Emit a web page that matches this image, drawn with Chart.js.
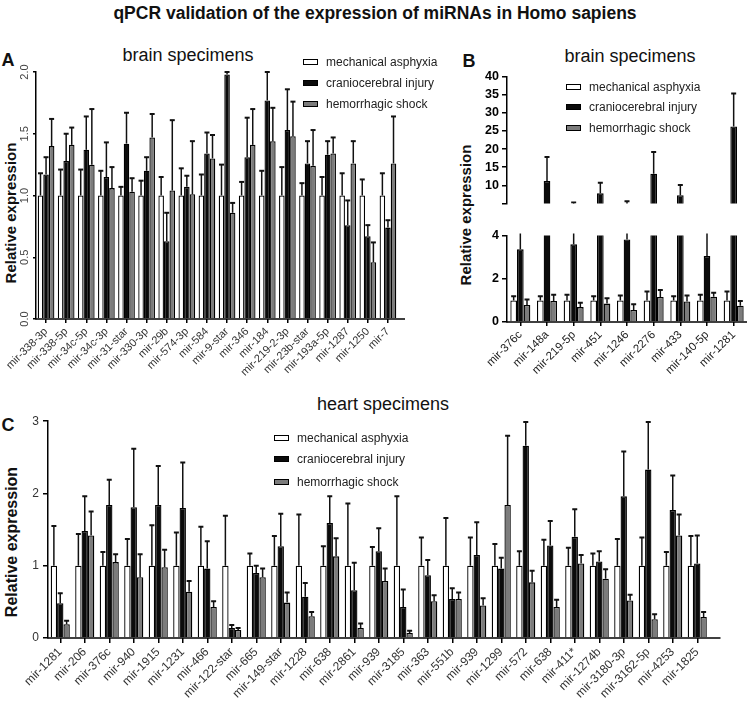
<!DOCTYPE html>
<html>
<head>
<meta charset="utf-8">
<script src="https://cdn.jsdelivr.net/npm/chart.js@4.4.1/dist/chart.umd.min.js"></script>
<style>
  body{margin:0;background:#fff;font-family:"Liberation Sans",Arial,sans-serif;}
  #page{position:relative;width:751px;height:706px;overflow:hidden;}
  canvas{position:absolute;}
  .t{position:absolute;white-space:nowrap;transform:translate(-50%,-50%);color:#111;}
  .yt{position:absolute;white-space:nowrap;font-weight:bold;color:#111;transform:translate(-50%,-50%) rotate(-90deg);}
  .lg{position:absolute;white-space:nowrap;font-size:12px;color:#222;transform:translateY(-50%);}
  .sw{position:absolute;width:13px;height:4px;border:1.3px solid #000;transform:translateY(-50%);}
</style>
</head>
<body>
<div id="page">
  <div class="t" style="left:375px;top:13px;font-size:17.5px;font-weight:bold">qPCR validation of the expression of miRNAs in Homo sapiens</div>

  <div class="t" style="left:8px;top:60px;font-size:18px;font-weight:bold">A</div>
  <div class="t" style="left:188px;top:55px;font-size:18px">brain specimens</div>
  <div class="yt" style="left:10px;top:213px;font-size:15px">Relative expression</div>
  <canvas id="cA" width="410" height="318" style="left:0;top:62px"></canvas>

  <div class="t" style="left:469px;top:61px;font-size:18px;font-weight:bold">B</div>
  <div class="t" style="left:630px;top:56px;font-size:18px">brain specimens</div>
  <div class="yt" style="left:465px;top:215px;font-size:15px">Relative expression</div>
  <canvas id="cBtop" width="296" height="148" style="left:455px;top:66px"></canvas>
  <canvas id="cBbot" width="296" height="150" style="left:455px;top:225px"></canvas>

  <div class="t" style="left:8px;top:425px;font-size:18px;font-weight:bold">C</div>
  <div class="t" style="left:383px;top:404px;font-size:18px">heart specimens</div>
  <div class="yt" style="left:12px;top:542px;font-size:16px">Relative expression</div>
  <canvas id="cC" width="725" height="296" style="left:0;top:410px"></canvas>
</div>
<script>
const seriesNames = ['mechanical asphyxia', 'craniocerebral injury', 'hemorrhagic shock'];
const fills = ['#ffffff', '#0b0b0b', '#7c7c7c'];

// A: brain specimens
const labelsA = ['mir-338-3p','mir-338-5p','mir-34c-5p','mir-34c-3p','mir-31-star','mir-330-3p','mir-29b','mir-574-3p','mir-584','mir-9-star','mir-346','mir-184','mir-219-2-3p','mir-23b-star','mir-193a-5p','mir-1287','mir-1250','mir-7'];
const asphyxiaA = [1,1,1,1,1,1,1,1,1,1,1,1,1,1,1,1,1,1];
const asphyxiaErrA = [1.18,1.21,1.21,1.20,1.07,1.12,1.15,1.22,1.17,1.25,1.11,1.20,1.23,1.10,1.15,1.18,1.13,1.18];
const cranioA = [1.17,1.28,1.37,1.15,1.42,1.20,0.63,1.07,1.34,1.98,1.31,1.77,1.53,1.26,1.33,0.76,0.67,0.74];
const cranioErrA = [1.31,1.50,1.64,1.43,1.67,1.31,0.86,1.16,1.51,2.00,1.63,2.00,1.86,1.44,1.44,0.96,0.76,0.80];
const shockA = [1.40,1.41,1.25,1.06,1.03,1.47,1.04,1.01,1.30,0.86,1.41,1.44,1.48,1.24,1.34,1.26,0.46,1.26];
const shockErrA = [1.62,1.55,1.70,1.23,1.14,1.66,1.61,1.44,1.49,0.94,1.70,1.71,1.76,1.53,1.47,1.44,0.62,1.64];

// B: brain specimens, broken axis
const labelsB = ['mir-376c','mir-148a','mir-219-5p','mir-451','mir-1246','mir-2276','mir-433','mir-140-5p','mir-1281'];
const asphyxiaB = [1,1,1,1,1,1,1,1,1];
const asphyxiaErrB = [1.19,1.19,1.26,1.19,1.23,1.41,1.19,1.26,1.41];
const cranioB = [3.36,11.2,3.59,7.8,3.82,13.2,7.3,3.05,26.2];
const cranioErrB = [4.6,17.8,5.3,10.7,5.6,19.2,10.1,4.4,35.3];
const shockB = [0.79,0.97,0.69,0.85,0.56,1.16,0.95,1.17,0.75];
const shockErrB = [1.04,1.26,0.89,1.10,0.82,1.48,1.23,1.35,0.97];

// C: heart specimens
const labelsC = ['mir-1281','mir-206','mir-376c','mir-940','mir-1915','mir-1231','mir-466','mir-122-star','mir-665','mir-149-star','mir-1228','mir-638','mir-2861','mir-939','mir-3185','mir-363','mir-551b','mir-939','mir-1299','mir-572','mir-638','mir-411*','mir-1274b','mir-3180-3p','mir-3162-5p','mir-4253','mir-1825'];
const asphyxiaC = [1,1,1,1,1,1,1,1,1,1,1,1,1,1,1,1,1,1,1,1,1,1,1,1,1,1,1];
const asphyxiaErrC = [1.55,1.44,1.19,1.37,1.56,1.46,1.54,1.69,1.17,1.41,1.71,1.27,1.86,1.26,1.96,1.39,1.66,1.39,1.30,1.20,1.36,1.25,1.17,1.37,1.39,1.19,1.41];
const cranioC = [0.48,1.48,1.84,1.81,1.84,1.80,0.96,0.14,0.90,1.27,0.57,1.59,0.66,1.20,0.43,0.87,0.54,1.15,0.96,2.66,1.28,1.40,1.06,1.96,2.33,1.77,1.03];
const cranioErrC = [0.62,1.96,2.19,2.62,2.38,2.43,1.34,0.18,1.00,1.72,0.76,1.96,1.04,1.52,0.67,1.08,0.69,1.60,1.11,2.99,1.62,1.78,1.20,2.58,2.99,2.25,1.42];
const shockC = [0.19,1.42,1.05,0.84,0.98,0.64,0.43,0.11,0.84,0.49,0.30,1.13,0.14,0.79,0.07,0.51,0.54,0.45,1.84,0.77,0.43,1.03,0.82,0.52,0.26,1.42,0.29];
const shockErrC = [0.24,1.75,1.16,1.16,1.22,0.79,0.51,0.14,0.96,0.63,0.36,1.38,0.20,0.96,0.10,0.59,0.63,0.55,2.80,0.93,0.53,1.15,0.95,0.60,0.33,1.71,0.36];

const FONT = '"Liberation Sans", Arial, sans-serif';

// upward error bars with a cap, clipped to the plot area
const errorBars = {
  id: 'errorBars',
  afterDatasetsDraw(chart) {
    const { ctx, chartArea: a, scales: { y } } = chart;
    ctx.save();
    ctx.beginPath();
    ctx.rect(a.left, a.top - 2, a.right - a.left, a.bottom - a.top + 2);
    ctx.clip();
    ctx.strokeStyle = '#111';
    chart.data.datasets.forEach((ds, i) => {
      chart.getDatasetMeta(i).data.forEach((bar, j) => {
        const top = y.getPixelForValue(ds.errTop[j]);
        ctx.lineWidth = 1.5;
        ctx.beginPath(); ctx.moveTo(bar.x, bar.y); ctx.lineTo(bar.x, top); ctx.stroke();
        ctx.lineWidth = 2;
        ctx.beginPath(); ctx.moveTo(bar.x - 2.5, top); ctx.lineTo(bar.x + 2.5, top); ctx.stroke();
      });
    });
    ctx.restore();
  }
};

// baseline, a bit longer than the category band like in the original
const axisExt = {
  id: 'axisExt',
  afterDraw(chart, args, o) {
    if (o.ext < 0) return;
    const { ctx, chartArea: a } = chart;
    ctx.save();
    ctx.strokeStyle = '#000'; ctx.lineWidth = 1.5;
    ctx.beginPath(); ctx.moveTo(a.left - 0.75, a.bottom); ctx.lineTo(a.right + o.ext, a.bottom); ctx.stroke();
    ctx.restore();
  }
};

function barChart(id, labels, series, o) {
  return new Chart(document.getElementById(id), {
    type: 'bar',
    data: {
      labels,
      datasets: series.map((s, k) => ({
        label: seriesNames[k], data: s[0], errTop: s[1],
        backgroundColor: fills[k], borderColor: '#000', borderWidth: 1.3,
        categoryPercentage: o.cat, barPercentage: 1
      }))
    },
    options: {
      responsive: false, animation: false,
      layout: { padding: o.pad },
      plugins: { legend: { display: false }, tooltip: { enabled: false }, axisExt: { ext: o.ext } },
      scales: {
        x: {
          display: o.xShow,
          grid: { offset: false, drawOnChartArea: false, tickLength: o.xTick, color: '#000', lineWidth: 1.5 },
          border: { display: false },
          ticks: { autoSkip: false, minRotation: 45, maxRotation: 45, padding: 2, color: o.xColor, font: { family: FONT, size: o.xFont } },
          afterFit: s => { s.height = o.xH; }
        },
        y: {
          min: o.min, max: o.max,
          grid: { drawOnChartArea: false, tickLength: o.yTick, color: '#000', lineWidth: 1.5 },
          border: { display: true, color: '#000', width: 1.5 },
          ticks: Object.assign({ stepSize: o.step, color: o.yColor, font: { family: FONT, size: o.yFont, weight: o.yWeight } }, o.yTicks),
          afterFit: s => { s.width = o.yW; }
        }
      }
    },
    plugins: [errorBars, axisExt]
  });
}

const seriesA = [[asphyxiaA, asphyxiaErrA], [cranioA, cranioErrA], [shockA, shockErrA]];
barChart('cA', labelsA, seriesA, {
  cat: 0.83, pad: { top: 10, right: 12, left: 0, bottom: 0 }, ext: 7,
  xShow: true, xTick: 4, xH: 61, xColor: '#333', xFont: 11,
  min: 0, max: 2, step: 0.5, yTick: 3, yW: 36, yColor: '#444', yFont: 11, yWeight: 'normal',
  yTicks: { minRotation: 90, maxRotation: 90, crossAlign: 'center', padding: 0, callback: v => v.toFixed(1) }
});

const seriesB = [[asphyxiaB, asphyxiaErrB], [cranioB, cranioErrB], [shockB, shockErrB]];
barChart('cBtop', labelsB, seriesB, {
  cat: 0.75, pad: { top: 8, right: 4, left: 0, bottom: 0 }, ext: -1,
  xShow: false, xTick: 4, xH: 0, xColor: '#222', xFont: 11,
  min: 5, max: 40, step: 5, yTick: 5, yW: 52, yColor: '#000', yFont: 12.5, yWeight: 'bold',
  yTicks: { padding: 3, callback: v => (v === 5 ? '' : v) }
});
barChart('cBbot', labelsB, seriesB, {
  cat: 0.75, pad: { top: 6, right: 4, left: 0, bottom: 0 }, ext: 0,
  xShow: true, xTick: 4, xH: 53, xColor: '#222', xFont: 11.5,
  min: 0, max: 4, step: 2, yTick: 5, yW: 52, yColor: '#000', yFont: 12.5, yWeight: 'bold',
  yTicks: { padding: 3 }
});

const seriesC = [[asphyxiaC, asphyxiaErrC], [cranioC, cranioErrC], [shockC, shockErrC]];
barChart('cC', labelsC, seriesC, {
  cat: 0.78, pad: { top: 10, right: 15.5, left: 0, bottom: 0 }, ext: 11,
  xShow: true, xTick: 5, xH: 68, xColor: '#333', xFont: 12,
  min: 0, max: 3, step: 1, yTick: 5, yW: 48, yColor: '#333', yFont: 12, yWeight: 'normal',
  yTicks: { padding: 4 }
});

// legends
function legend(x, ys) {
  const page = document.getElementById('page');
  seriesNames.forEach((name, k) => {
    const sw = document.createElement('div');
    sw.className = 'sw';
    sw.style.left = x + 'px'; sw.style.top = ys[k] + 'px'; sw.style.background = fills[k];
    page.appendChild(sw);
    const t = document.createElement('div');
    t.className = 'lg';
    t.style.left = (x + 23) + 'px'; t.style.top = ys[k] + 'px';
    t.textContent = name;
    page.appendChild(t);
  });
}
legend(303, [62, 83, 104]);
legend(566, [87, 107, 128]);
legend(274, [438, 459, 482]);
</script>
</body>
</html>
